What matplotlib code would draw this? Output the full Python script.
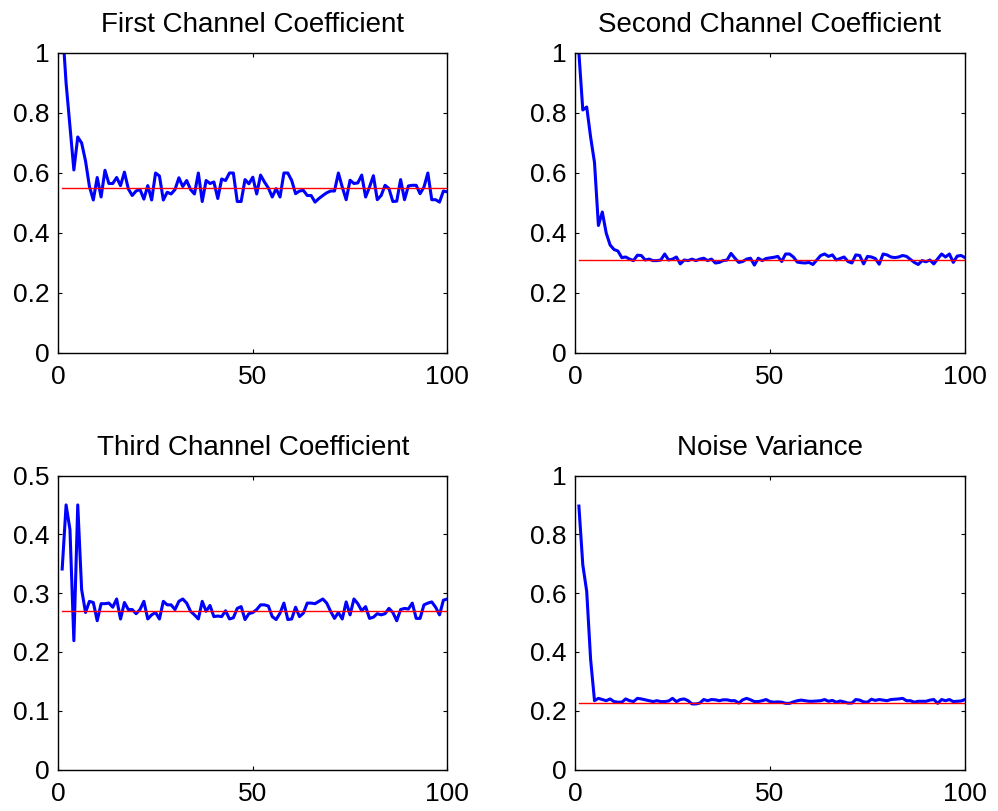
import numpy as np
import matplotlib
matplotlib.use("Agg")
import matplotlib.pyplot as plt

plt.rcParams['font.family'] = ['Liberation Sans', 'DejaVu Sans']

iterations = list(range(1, 101))

titles = ["First Channel Coefficient", "Second Channel Coefficient",
          "Third Channel Coefficient", "Noise Variance"]

first_coef = [1.10, 0.90, 0.755, 0.61, 0.72, 0.70, 0.64, 0.555, 0.51, 0.585,
              0.52, 0.609, 0.565, 0.565, 0.585, 0.558, 0.603, 0.547, 0.525, 0.54,
              0.545, 0.513, 0.558, 0.51, 0.60, 0.59, 0.51, 0.536, 0.53, 0.545,
              0.584, 0.555, 0.575, 0.545, 0.53, 0.60, 0.505, 0.575, 0.565, 0.57,
              0.515, 0.58, 0.575, 0.60, 0.60, 0.505, 0.505, 0.578, 0.564, 0.586,
              0.53, 0.593, 0.57, 0.55, 0.52, 0.548, 0.52, 0.60, 0.60, 0.575,
              0.531, 0.54, 0.542, 0.525, 0.525, 0.503, 0.515, 0.525, 0.534, 0.54,
              0.54, 0.60, 0.553, 0.511, 0.576, 0.565, 0.567, 0.593, 0.52, 0.553,
              0.591, 0.511, 0.525, 0.559, 0.548, 0.505, 0.506, 0.578, 0.511, 0.557,
              0.559, 0.559, 0.531, 0.553, 0.60, 0.511, 0.511, 0.503, 0.54, 0.537]

second_coef = [1.0, 0.81, 0.82, 0.72, 0.635, 0.425, 0.47, 0.40, 0.36, 0.345,
               0.34, 0.318, 0.32, 0.313, 0.308, 0.326, 0.325, 0.31, 0.313, 0.308,
               0.308, 0.31, 0.33, 0.31, 0.313, 0.32, 0.297, 0.31, 0.308, 0.313,
               0.308, 0.313, 0.316, 0.308, 0.313, 0.30, 0.302, 0.308, 0.31, 0.332,
               0.316, 0.302, 0.305, 0.313, 0.316, 0.293, 0.316, 0.308,
               0.315, 0.317, 0.319, 0.322, 0.305, 0.33, 0.33, 0.32, 0.303, 0.301,
               0.30, 0.302, 0.295, 0.31, 0.325, 0.33, 0.322, 0.327, 0.31, 0.315,
               0.32, 0.305, 0.30, 0.327, 0.325, 0.297, 0.322, 0.32, 0.315, 0.296,
               0.33, 0.327, 0.32, 0.318, 0.32, 0.325, 0.322, 0.312, 0.302, 0.295,
               0.308, 0.304, 0.31, 0.297, 0.314, 0.33, 0.32, 0.33, 0.302, 0.323,
               0.325, 0.318]

third_coef = [0.341, 0.45, 0.408, 0.219, 0.45, 0.306, 0.267, 0.286, 0.284, 0.253,
              0.282, 0.282, 0.283, 0.276, 0.29, 0.256, 0.284, 0.272, 0.272, 0.265,
              0.272, 0.286, 0.256, 0.263, 0.267, 0.256, 0.286, 0.28, 0.28, 0.272,
              0.286, 0.29, 0.283, 0.269, 0.263, 0.256, 0.286, 0.269, 0.279, 0.26,
              0.261, 0.26, 0.27, 0.256, 0.258, 0.274, 0.277, 0.255, 0.265, 0.267,
              0.272, 0.28, 0.28, 0.278, 0.26, 0.255, 0.266, 0.283, 0.255, 0.256,
              0.276, 0.26, 0.266, 0.283, 0.283, 0.282, 0.286, 0.29, 0.283, 0.269,
              0.257, 0.267, 0.256, 0.285, 0.263, 0.29, 0.282, 0.27, 0.277, 0.257,
              0.259, 0.265, 0.263, 0.265, 0.274, 0.267, 0.253, 0.272, 0.274, 0.273,
              0.283, 0.257, 0.257, 0.28, 0.283, 0.285, 0.276, 0.263, 0.288, 0.29]

noise_var = [0.896, 0.696, 0.606, 0.375, 0.234, 0.242, 0.238, 0.234, 0.240, 0.231,
             0.229, 0.229, 0.240, 0.234, 0.231, 0.242, 0.240, 0.237, 0.234, 0.231,
             0.234, 0.231, 0.231, 0.233, 0.242, 0.231, 0.238, 0.240, 0.234, 0.223,
             0.223, 0.226, 0.238, 0.234, 0.238, 0.237, 0.234, 0.237, 0.237, 0.234,
             0.234, 0.226, 0.237, 0.242, 0.237, 0.231, 0.231, 0.234,
             0.238, 0.231, 0.229, 0.230, 0.229, 0.225, 0.225, 0.230, 0.234, 0.236,
             0.234, 0.232, 0.232, 0.233, 0.234, 0.238, 0.232, 0.235, 0.229, 0.233,
             0.230, 0.226, 0.226, 0.238, 0.236, 0.230, 0.229, 0.239, 0.235, 0.238,
             0.236, 0.234, 0.238, 0.239, 0.240, 0.242, 0.234, 0.234, 0.229, 0.232,
             0.232, 0.232, 0.236, 0.238, 0.225, 0.238, 0.234, 0.238, 0.231, 0.232,
             0.233, 0.238]

true_values = [0.55, 0.31, 0.27, 0.225]
estimates = [first_coef, second_coef, third_coef, noise_var]
y_limits = [(0, 1), (0, 1), (0, 0.5), (0, 1)]
y_ticks = [[0, 0.2, 0.4, 0.6, 0.8, 1], [0, 0.2, 0.4, 0.6, 0.8, 1],
           [0, 0.1, 0.2, 0.3, 0.4, 0.5], [0, 0.2, 0.4, 0.6, 0.8, 1]]
x_ticks = [0, 50, 100]

W, H = 998, 811
fig = plt.figure(figsize=(W / 100, H / 100), dpi=100)

# axes boxes in pixels: (left, top, right, bottom)
boxes = [(58.3, 53, 447.3, 353), (575, 53, 965, 353),
         (58.3, 475.5, 447.3, 769.5), (575, 475.5, 965, 769.5)]

TICK_FS = 19
TITLE_FS = 20

def fmt(v):
    return '%g' % v

for i in range(4):
    l, t, r, b = boxes[i]
    ax = fig.add_axes([l / W, 1 - b / H, (r - l) / W, (b - t) / H])
    ax.plot(iterations, estimates[i], color=(0, 0, 1), lw=2.2, clip_on=True)
    ax.plot(iterations, [true_values[i]] * len(iterations), color=(1, 0, 0), lw=1.0)
    ax.set_xlim(0, 100)
    ax.set_ylim(*y_limits[i])
    ax.set_xticks(x_ticks)
    ax.set_xticklabels([fmt(v) for v in x_ticks])
    ax.set_yticks(y_ticks[i])
    ax.set_yticklabels([fmt(v) for v in y_ticks[i]])
    ax.tick_params(direction='in', length=3, width=0.8, top=True, right=True,
                   labelsize=TICK_FS)
    ax.tick_params(axis='x', pad=9)
    ax.tick_params(axis='y', pad=6)
    for sp in ax.spines.values():
        sp.set_linewidth(1.0)
    ax.set_title(titles[i], fontsize=TITLE_FS, pad=15)

fig.savefig("out.png", dpi=100)
